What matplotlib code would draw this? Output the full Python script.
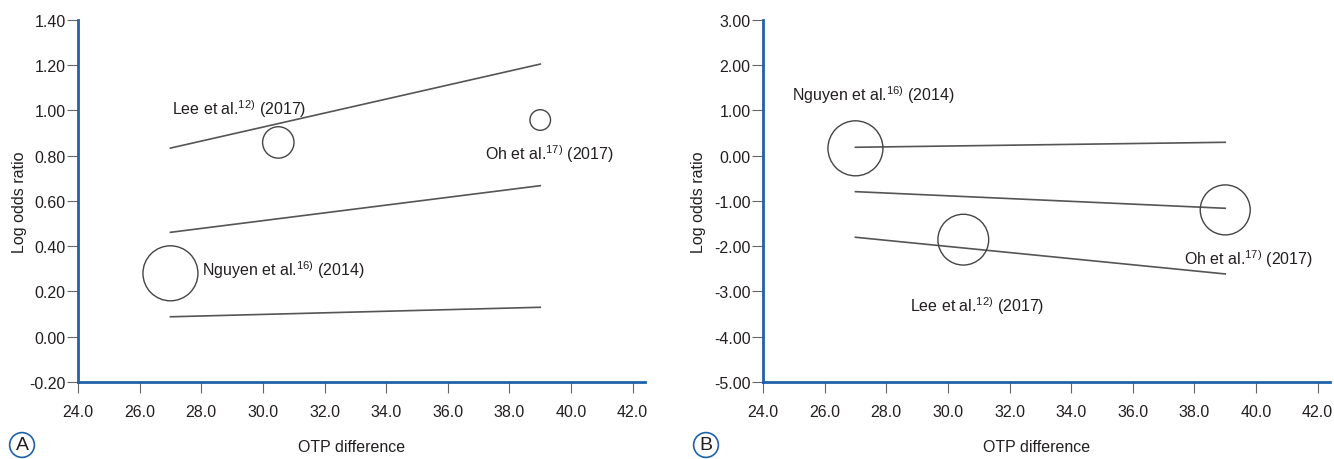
import matplotlib
matplotlib.use("Agg")
import matplotlib.pyplot as plt

# ---- data ----
otp = [27.0, 30.5, 39.0]
studies = ["Nguyen et al.", "Lee et al.", "Oh et al."]
refs = ["16)", "12)", "17)"]
years = ["(2014)", "(2017)", "(2017)"]

# panel A
lor_a = [0.28, 0.858, 0.957]
weight_a = [27.5, 15.7, 10.3]
line_x = [27.0, 39.0]
upper_a = [0.833, 1.204]
fit_a = [0.461, 0.667]
lower_a = [0.088, 0.130]
label_pos_a = [(28.02, 0.30), (27.04, 1.01), (37.2, 0.81)]
yticks_a = [-0.20, 0.00, 0.20, 0.40, 0.60, 0.80, 1.00, 1.20, 1.40]

# panel B
lor_b = [0.16, -1.857, -1.20]
weight_b = [27.5, 25.4, 25.0]
upper_b = [0.183, 0.293]
fit_b = [-0.797, -1.164]
lower_b = [-1.804, -2.614]
label_pos_b = [(24.93, 1.36), (28.78, -3.30), (37.67, -2.27)]
yticks_b = [-5.00, -4.00, -3.00, -2.00, -1.00, 0.00, 1.00, 2.00, 3.00]

xticks = [24.0, 26.0, 28.0, 30.0, 32.0, 34.0, 36.0, 38.0, 40.0, 42.0]

blue = "#1f62a8"
ink = "#231f20"
line_col = "#555555"

plt.rcParams["font.family"] = ["Liberation Sans", "DejaVu Sans"]
plt.rcParams["mathtext.fontset"] = "custom"
plt.rcParams["mathtext.rm"] = "Liberation Sans"
plt.rcParams["text.color"] = ink

fs = 11.5

fig = plt.figure(figsize=(13.34, 4.6), dpi=100)
ax_a = fig.add_axes([78 / 1334, 1 - 383 / 460, 567 / 1334, 362.3 / 460])
ax_b = fig.add_axes([763 / 1334, 1 - 383 / 460, 567 / 1334, 362.3 / 460])


def panel(ax, lor, weight, upper, fit, lower, label_pos, yticks, ylim, ylab_x):
    for ys in (upper, fit, lower):
        ax.plot(line_x, ys, color=line_col, lw=1.2)
    # weight -> marker area (radius in px -> points)
    sizes = [(2 * w * 0.72) ** 2 for w in weight]
    ax.scatter(otp, lor, s=sizes, facecolors="none", edgecolors="#444444",
               linewidths=1.0, zorder=3)
    for name, ref, yr, (lx, ly) in zip(studies, refs, years, label_pos):
        ax.text(lx, ly, name + r"$^{\mathrm{" + ref + "}}$ " + yr,
                fontsize=fs, va="center", ha="left", color=ink)

    ax.set_xlim(24.0, 42.4)
    ax.set_ylim(*ylim)
    ax.set_xticks(xticks)
    ax.set_xticklabels(["%.1f" % t for t in xticks])
    ax.set_yticks(yticks)
    ax.set_yticklabels(["%.2f" % t for t in yticks])
    ax.tick_params(axis="both", labelsize=fs, colors="#666666",
                   labelcolor=ink, length=8, width=0.8, direction="out")
    ax.tick_params(axis="y", pad=1)
    ax.tick_params(axis="x", pad=8)
    for s in ("top", "right"):
        ax.spines[s].set_visible(False)
    for s in ("left", "bottom"):
        ax.spines[s].set_color(blue)
        ax.spines[s].set_linewidth(2)
    ax.set_xlabel("OTP difference", fontsize=fs, color=ink)
    ax.xaxis.set_label_coords(0.483, -0.179)
    ax.xaxis.label.set_va("center")
    ax.set_ylabel("Log odds ratio", fontsize=fs, color=ink)
    ax.yaxis.set_label_coords(ylab_x, 0.5)
    ax.yaxis.label.set_va("center")


panel(ax_a, lor_a, weight_a, upper_a, fit_a, lower_a, label_pos_a,
      yticks_a, (-0.20, 1.40), -0.104)
panel(ax_b, lor_b, weight_b, upper_b, fit_b, lower_b, label_pos_b,
      yticks_b, (-5.00, 3.00), -0.113)

for tag, x in (("A", 22 / 1334), ("B", 706 / 1334)):
    fig.text(x, 1 - 446 / 460, tag, fontsize=14, ha="center", va="center",
             color=ink,
             bbox=dict(boxstyle="circle,pad=0.2", fc="white", ec=blue, lw=1.2))

fig.savefig("out.png", dpi=100)
